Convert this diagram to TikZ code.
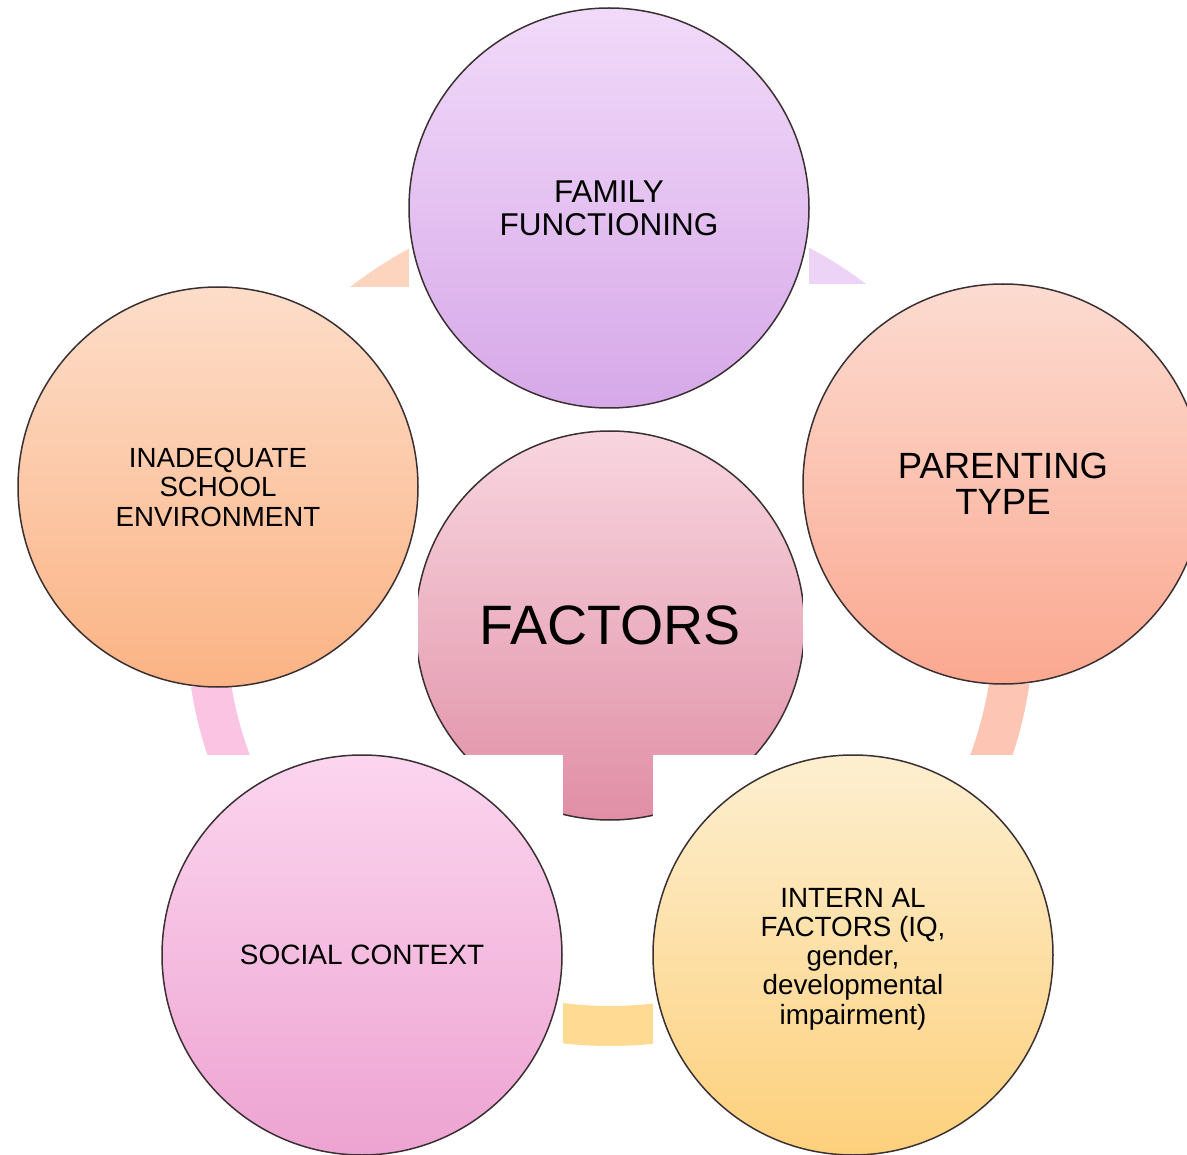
\documentclass[tikz,border=0pt]{standalone}
\usepackage{fontspec}
\setmainfont{Liberation Sans}
\definecolor{famT}{HTML}{F1DAF9}\definecolor{famB}{HTML}{D6A8E8}
\definecolor{parT}{HTML}{FCDBD0}\definecolor{parB}{HTML}{FBA890}
\definecolor{schT}{HTML}{FDDDC9}\definecolor{schB}{HTML}{FBB384}
\definecolor{facT}{HTML}{F8D6DF}\definecolor{facB}{HTML}{E08EA6}
\definecolor{socT}{HTML}{FCD5EF}\definecolor{socB}{HTML}{EDA3D1}
\definecolor{intT}{HTML}{FDEFD0}\definecolor{intB}{HTML}{FDD07C}
\definecolor{ringTL}{HTML}{FDD5BE}
\definecolor{ringTR}{HTML}{EDD3F6}
\definecolor{ringRL}{HTML}{FDC5B3}
\definecolor{ringB}{HTML}{FEDA92}
\definecolor{ringLL}{HTML}{FBC4E2}
\definecolor{outline}{HTML}{3A3032}
\begin{document}
\begin{tikzpicture}[x=1pt,y=-1pt,
  bubble/.style={circle, draw=outline, line width=1.5pt, minimum size=400pt,
    inner sep=0pt, align=center, text=black},
  ringseg/.style={line width=40pt},
  whitebox/.style={fill=white}]
\useasboundingbox (0,0) rectangle (1187,1155);
\clip (0,0) rectangle (1187,1155);
\fill[white] (0,0) rectangle (1187,1155);
% ring behind the circles
\coordinate (ringc) at (610,622);
\draw[ringseg, ringTL] (ringc) ++(200:404) arc[start angle=200, end angle=270, radius=404];
\draw[ringseg, ringTR] (ringc) ++(270:404) arc[start angle=270, end angle=340, radius=404];
\draw[ringseg, ringRL] (ringc) ++(-20:404) arc[start angle=-20, end angle=50, radius=404];
\draw[ringseg, ringB] (ringc) ++(50:404) arc[start angle=50, end angle=130, radius=404];
\draw[ringseg, ringLL] (ringc) ++(130:404) arc[start angle=130, end angle=200, radius=404];
% centre
\fill[whitebox] (417,431) rectangle (803,820);
\node[bubble, minimum size=389pt, top color=facT, bottom color=facB,
  font=\fontsize{55.5}{60}\selectfont] (factors) at (610,625.5) {FACTORS};
% top
\fill[whitebox] (409,8) rectangle (809,408);
\node[bubble, top color=famT, bottom color=famB,
  font=\fontsize{31.5}{33}\selectfont] (family) at (609,208) {FAMILY\\FUNCTIONING};
% left
\fill[whitebox] (18,287) rectangle (418,687);
\node[bubble, top color=schT, bottom color=schB,
  font=\fontsize{27.7}{29.5}\selectfont] (school) at (218,487) {INADEQUATE\\SCHOOL\\ENVIRONMENT};
% right
\fill[whitebox] (803,284) rectangle (1203,684);
\node[bubble, top color=parT, bottom color=parB,
  font=\fontsize{36.5}{36.5}\selectfont] (parent) at (1003,484) {PARENTING\\TYPE};
% bottom left
\fill[whitebox] (162,755) rectangle (563,1155);
\node[bubble, top color=socT, bottom color=socB,
  font=\fontsize{28}{30}\selectfont] (social) at (362,955) {SOCIAL CONTEXT};
% bottom right
\fill[whitebox] (653,755) rectangle (1053,1155);
\node[bubble, top color=intT, bottom color=intB,
  font=\fontsize{27.8}{29.3}\selectfont] (internal) at (853,955) {};
\node[align=center, inner sep=0pt, font=\fontsize{27.8}{29.3}\selectfont]
  (internaltext) at ([yshift=-4pt]internal.center)
  {INTERN AL\\FACTORS (IQ,\\gender,\\developmental\\impairment)};
\end{tikzpicture}
\end{document}
